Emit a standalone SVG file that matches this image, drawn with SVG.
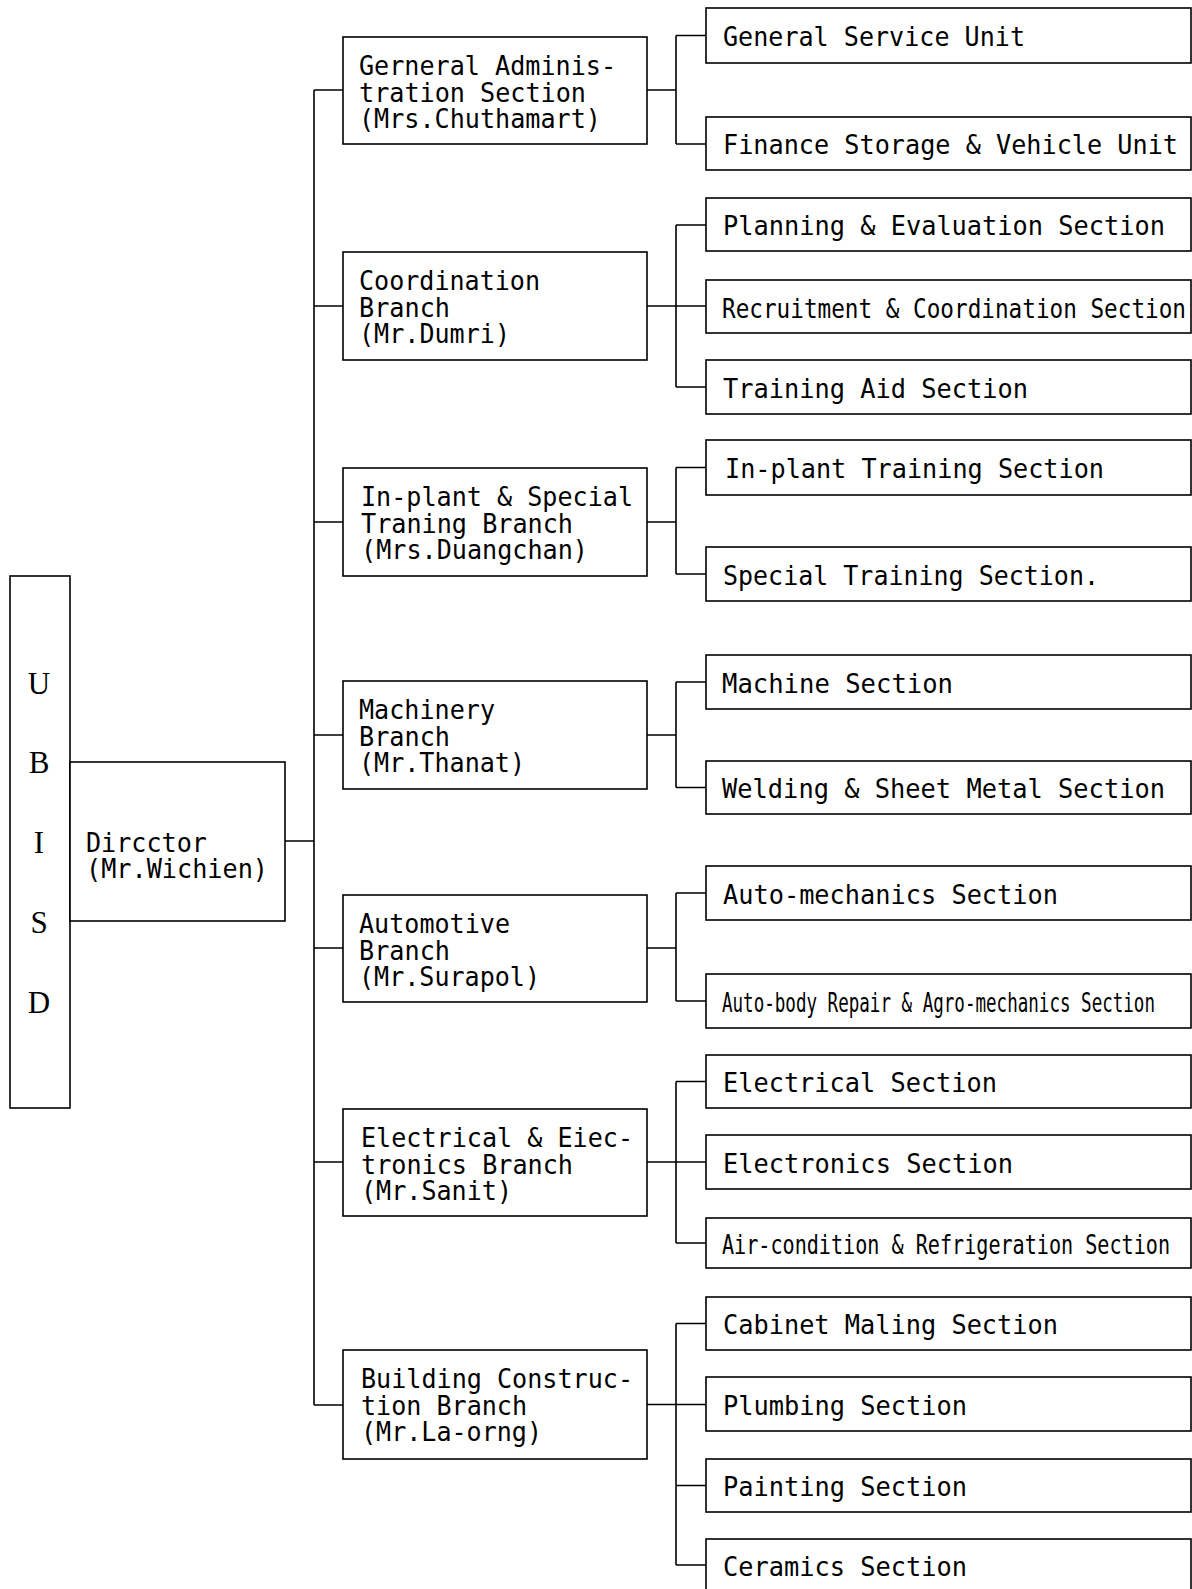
<svg xmlns="http://www.w3.org/2000/svg" width="1192" height="1589" viewBox="0 0 1192 1589">
<style>
.box{fill:#fff;stroke:#000;stroke-width:1.6}
.ln{fill:none;stroke:#000;stroke-width:1.6}
.t{font-family:"DejaVu Sans Mono","Liberation Mono",monospace;font-size:27px;fill:#000}
.u{font-family:"Liberation Serif","DejaVu Serif",serif;font-size:31px;fill:#000;text-anchor:middle}
</style>
<rect width="1192" height="1589" fill="#fff"/>
<g id="connectors">
<path class="ln" d="M285,841H314M314,90V1405M314,90H343M314,306H343M314,522H343M314,735H343M314,948H343M314,1162H343M314,1405H343"/>
<path class="ln" d="M647,90H676M676,35.5V144M676,35.5H706M676,144H706"/>
<path class="ln" d="M647,306H706M676,225V387M676,225H706M676,387H706"/>
<path class="ln" d="M647,522H676M676,467.5V574M676,467.5H706M676,574H706"/>
<path class="ln" d="M647,735H676M676,682V787.5M676,682H706M676,787.5H706"/>
<path class="ln" d="M647,948H676M676,893V1001M676,893H706M676,1001H706"/>
<path class="ln" d="M647,1162H706M676,1081.5V1243M676,1081.5H706M676,1243H706"/>
<path class="ln" d="M647,1404.5H706M676,1323.5V1565M676,1323.5H706M676,1485.5H706M676,1565H706"/>
</g>
<g id="ubisd">
<rect class="box" x="10" y="576" width="60" height="532"/>
<text class="u" x="39" y="694">U</text>
<text class="u" x="39" y="773">B</text>
<text class="u" x="39" y="853">I</text>
<text class="u" x="39" y="933">S</text>
<text class="u" x="39" y="1013">D</text>
</g>
<g id="director">
<rect class="box" x="70" y="762" width="215" height="159"/>
<text class="t" x="86" y="852" textLength="121" lengthAdjust="spacingAndGlyphs">Dircctor</text>
<text class="t" x="86" y="878" textLength="182" lengthAdjust="spacingAndGlyphs">(Mr.Wichien)</text>
</g>
<g id="b-ga">
<rect class="box" x="343" y="37" width="304" height="107"/>
<text class="t" x="359" y="75" textLength="257" lengthAdjust="spacingAndGlyphs">Gerneral Adminis-</text>
<text class="t" x="359" y="101.5" textLength="227" lengthAdjust="spacingAndGlyphs">tration Section</text>
<text class="t" x="359" y="128" textLength="242" lengthAdjust="spacingAndGlyphs">(Mrs.Chuthamart)</text>
</g>
<g id="b-coord">
<rect class="box" x="343" y="252" width="304" height="108"/>
<text class="t" x="359" y="290" textLength="181" lengthAdjust="spacingAndGlyphs">Coordination</text>
<text class="t" x="359" y="316.5" textLength="91" lengthAdjust="spacingAndGlyphs">Branch</text>
<text class="t" x="359" y="343" textLength="151" lengthAdjust="spacingAndGlyphs">(Mr.Dumri)</text>
</g>
<g id="b-inplant">
<rect class="box" x="343" y="468" width="304" height="108"/>
<text class="t" x="361" y="506" textLength="272" lengthAdjust="spacingAndGlyphs">In-plant &amp; Special</text>
<text class="t" x="361" y="532.5" textLength="212" lengthAdjust="spacingAndGlyphs">Traning Branch</text>
<text class="t" x="361" y="559" textLength="227" lengthAdjust="spacingAndGlyphs">(Mrs.Duangchan)</text>
</g>
<g id="b-mach">
<rect class="box" x="343" y="681" width="304" height="108"/>
<text class="t" x="359" y="719" textLength="136" lengthAdjust="spacingAndGlyphs">Machinery</text>
<text class="t" x="359" y="745.5" textLength="91" lengthAdjust="spacingAndGlyphs">Branch</text>
<text class="t" x="359" y="772" textLength="166" lengthAdjust="spacingAndGlyphs">(Mr.Thanat)</text>
</g>
<g id="b-auto">
<rect class="box" x="343" y="895" width="304" height="107"/>
<text class="t" x="359" y="933" textLength="151" lengthAdjust="spacingAndGlyphs">Automotive</text>
<text class="t" x="359" y="959.5" textLength="91" lengthAdjust="spacingAndGlyphs">Branch</text>
<text class="t" x="359" y="986" textLength="181" lengthAdjust="spacingAndGlyphs">(Mr.Surapol)</text>
</g>
<g id="b-elec">
<rect class="box" x="343" y="1109" width="304" height="107"/>
<text class="t" x="361" y="1147" textLength="272" lengthAdjust="spacingAndGlyphs">Electrical &amp; Eiec-</text>
<text class="t" x="361" y="1173.5" textLength="212" lengthAdjust="spacingAndGlyphs">tronics Branch</text>
<text class="t" x="361" y="1200" textLength="151" lengthAdjust="spacingAndGlyphs">(Mr.Sanit)</text>
</g>
<g id="b-build">
<rect class="box" x="343" y="1350" width="304" height="109"/>
<text class="t" x="361" y="1388" textLength="272" lengthAdjust="spacingAndGlyphs">Building Construc-</text>
<text class="t" x="361" y="1414.5" textLength="166" lengthAdjust="spacingAndGlyphs">tion Branch</text>
<text class="t" x="361" y="1441" textLength="181" lengthAdjust="spacingAndGlyphs">(Mr.La-orng)</text>
</g>
<g id="s-gsu"><rect class="box" x="706" y="8" width="485" height="55"/><text class="t" x="723" y="46" textLength="302" lengthAdjust="spacingAndGlyphs">General Service Unit</text></g>
<g id="s-fsv"><rect class="box" x="706" y="117" width="485" height="53"/><text class="t" x="723" y="154" textLength="455" lengthAdjust="spacingAndGlyphs">Finance Storage &amp; Vehicle Unit</text></g>
<g id="s-pe"><rect class="box" x="706" y="198" width="485" height="53"/><text class="t" x="723" y="235" textLength="442" lengthAdjust="spacingAndGlyphs">Planning &amp; Evaluation Section</text></g>
<g id="s-rc"><rect class="box" x="706" y="280" width="485" height="53"/><text class="t" x="722" y="318" textLength="464" lengthAdjust="spacingAndGlyphs">Recruitment &amp; Coordination Section</text></g>
<g id="s-ta"><rect class="box" x="706" y="360" width="485" height="54"/><text class="t" x="723" y="398" textLength="305" lengthAdjust="spacingAndGlyphs">Training Aid Section</text></g>
<g id="s-ipt"><rect class="box" x="706" y="440" width="485" height="55"/><text class="t" x="725" y="478" textLength="379" lengthAdjust="spacingAndGlyphs">In-plant Training Section</text></g>
<g id="s-st"><rect class="box" x="706" y="547" width="485" height="54"/><text class="t" x="723" y="584.5" textLength="376" lengthAdjust="spacingAndGlyphs">Special Training Section.</text></g>
<g id="s-ms"><rect class="box" x="706" y="655" width="485" height="54"/><text class="t" x="722" y="692.5" textLength="231" lengthAdjust="spacingAndGlyphs">Machine Section</text></g>
<g id="s-ws"><rect class="box" x="706" y="761" width="485" height="53"/><text class="t" x="722" y="798" textLength="443" lengthAdjust="spacingAndGlyphs">Welding &amp; Sheet Metal Section</text></g>
<g id="s-am"><rect class="box" x="706" y="866" width="485" height="54"/><text class="t" x="723" y="903.5" textLength="335" lengthAdjust="spacingAndGlyphs">Auto-mechanics Section</text></g>
<g id="s-ab"><rect class="box" x="706" y="974" width="485" height="54"/><text class="t" x="722" y="1012" textLength="433" lengthAdjust="spacingAndGlyphs">Auto-body Repair &amp; Agro-mechanics Section</text></g>
<g id="s-es"><rect class="box" x="706" y="1055" width="485" height="53"/><text class="t" x="723" y="1092" textLength="274" lengthAdjust="spacingAndGlyphs">Electrical Section</text></g>
<g id="s-ens"><rect class="box" x="706" y="1135" width="485" height="54"/><text class="t" x="723" y="1172.5" textLength="290" lengthAdjust="spacingAndGlyphs">Electronics Section</text></g>
<g id="s-ac"><rect class="box" x="706" y="1218" width="485" height="50"/><text class="t" x="722" y="1254" textLength="448" lengthAdjust="spacingAndGlyphs">Air-condition &amp; Refrigeration Section</text></g>
<g id="s-cm"><rect class="box" x="706" y="1297" width="485" height="53"/><text class="t" x="723" y="1334" textLength="335" lengthAdjust="spacingAndGlyphs">Cabinet Maling Section</text></g>
<g id="s-pl"><rect class="box" x="706" y="1377" width="485" height="54"/><text class="t" x="723" y="1414.5" textLength="244" lengthAdjust="spacingAndGlyphs">Plumbing Section</text></g>
<g id="s-pa"><rect class="box" x="706" y="1459" width="485" height="53"/><text class="t" x="723" y="1496" textLength="244" lengthAdjust="spacingAndGlyphs">Painting Section</text></g>
<g id="s-ce"><rect class="box" x="706" y="1539" width="485" height="56"/><text class="t" x="723" y="1576" textLength="244" lengthAdjust="spacingAndGlyphs">Ceramics Section</text></g>
</svg>
